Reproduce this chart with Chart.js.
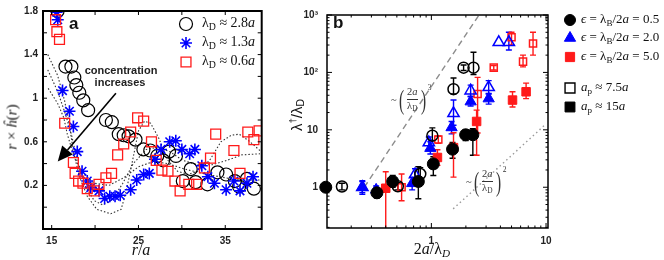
<!DOCTYPE html>
<html>
<head>
<meta charset="utf-8">
<script src="https://cdn.jsdelivr.net/npm/chart.js@4/dist/chart.umd.min.js"></script>
<style>
body { margin: 0; background: #fff; width: 664px; height: 260px; overflow: hidden; position: relative; font-family: "Liberation Sans", Arial, sans-serif; }
canvas { position: absolute; top: 0; }
#ca { left: 0; }
#cb { left: 280px; }
.t { position: absolute; white-space: nowrap; color: #111; line-height: 1; }
.c { transform: translate(-50%, -50%); }
.m { transform: translateY(-50%); }
.serif { font-family: "Liberation Serif", "DejaVu Serif", serif; }
.lg { font-size: 14px; }
.lgb { font-size: 13px; }
sub { font-size: 70%; vertical-align: -0.25em; font-style: normal; }
sup { font-size: 65%; vertical-align: 0.55em; }
.pw { font-family: "Liberation Serif", serif; font-size: 10.5px; display: flex; align-items: center; color: #333; }
.fr { display: inline-flex; flex-direction: column; align-items: center; line-height: 1.2; margin: 0 1px; }
.fr span:first-child { border-bottom: 0.7px solid #333; }
.par { font-size: 28px; line-height: 1; transform: scaleX(0.55); display: inline-block; font-weight: 300; }
.pw sup { font-size: 7.5px; align-self: flex-start; margin-top: -2px; }
</style>
</head>
<body>
<canvas id="ca" width="270" height="260"></canvas>
<canvas id="cb" width="384" height="260"></canvas>

<!-- panel a texts -->
<div class="t" style="left:69px;top:15px;font-size:17px;font-weight:bold">a</div>
<div class="t c" style="left:121px;top:70px;font-size:11px;font-weight:bold;color:#222">concentration</div>
<div class="t c" style="left:120px;top:82px;font-size:11px;font-weight:bold;color:#222">increases</div>
<div class="t m serif lg" style="left:202px;top:24px">λ<sub>D</sub> ≈ 2.8<i>a</i></div>
<div class="t m serif lg" style="left:202px;top:43px">λ<sub>D</sub> ≈ 1.3<i>a</i></div>
<div class="t m serif lg" style="left:202px;top:62px">λ<sub>D</sub> ≈ 0.6<i>a</i></div>
<div class="t c serif" style="left:141px;top:250px;font-size:16px"><i>r</i>/<i>a</i></div>
<div class="t serif" style="left:12px;top:127px;font-size:15px;transform:translate(-50%,-50%) rotate(-90deg)"><i>r</i> × <i>h&#770;</i>(<i>r</i>)</div>

<!-- panel b texts -->
<div class="t" style="left:333px;top:14px;font-size:17px;font-weight:bold">b</div>
<div class="t" style="left:297px;top:115px;font-size:15px;transform:translate(-50%,-50%) rotate(-90deg)">λ<sup>†</sup>/λ<sub>D</sub></div>
<div class="t c serif" style="left:432px;top:250px;font-size:16px">2<i>a</i>/λ<sub><i>D</i></sub></div>
<div class="t pw" style="left:391px;top:86px">~ <span class="par">(</span><span class="fr"><span>2<i>a</i></span><span>λ<sub>D</sub></span></span><span class="par">)</span><sup>3</sup></div>
<div class="t pw" style="left:466px;top:168px">~ <span class="par">(</span><span class="fr"><span>2<i>a</i></span><span>λ<sub>D</sub></span></span><span class="par">)</span><sup>2</sup></div>
<div class="t m serif lgb" style="left:581px;top:20px"><i>ϵ</i> = λ<sub>B</sub>/2<i>a</i> = 0.5</div>
<div class="t m serif lgb" style="left:581px;top:38px"><i>ϵ</i> = λ<sub>B</sub>/2<i>a</i> = 2.0</div>
<div class="t m serif lgb" style="left:581px;top:57px"><i>ϵ</i> = λ<sub>B</sub>/2<i>a</i> = 5.0</div>
<div class="t m serif lgb" style="left:581px;top:88px"><i>a<sub>p</sub></i> ≈ 7.5<i>a</i></div>
<div class="t m serif lgb" style="left:581px;top:107px"><i>a<sub>p</sub></i> ≈ 15<i>a</i></div>

<script>
// ---------- panel a : r x h(r) vs r/a ----------
const ringX = [15.68, 16.59, 17.27, 17.61, 17.84, 18.18, 18.64, 19.2, 21.25, 21.93, 22.73, 23.3, 23.86, 24.66, 25.57, 26.36, 27.16, 27.84, 28.52, 29.32, 30.11, 31.02, 31.59, 32.95, 34.1, 35.1, 36.1, 36.6, 37.5, 38.3];
const ringY = [1.80, 1.29, 1.29, 1.19, 1.12, 1.05, 0.98, 0.89, 0.80, 0.78, 0.67, 0.66, 0.65, 0.62, 0.53, 0.52, 0.47, 0.43, 0.51, 0.47, 0.24, 0.35, 0.23, 0.21, 0.32, 0.30, 0.24, 0.19, 0.26, 0.17];

const starX = [15.57, 15.7, 16.25, 17.05, 17.5, 17.95, 18.5, 19.1, 19.5, 20.45, 21.1, 21.7, 22.3, 22.9, 24.1, 24.8, 25.6, 26.25, 26.9, 27.6, 28.6, 29.3, 30.0, 30.9, 31.5, 32.3, 33.0, 33.75, 35.1, 36.0, 36.7, 37.5, 38.2];
const starY = [1.79, 1.72, 1.07, 0.88, 0.74, 0.51, 0.33, 0.24, 0.18, 0.15, 0.08, 0.10, 0.10, 0.11, 0.16, 0.25, 0.30, 0.31, 0.44, 0.53, 0.60, 0.61, 0.53, 0.49, 0.53, 0.38, 0.28, 0.22, 0.16, 0.24, 0.15, 0.22, 0.28];

const boxX = [15.45, 15.6, 15.9, 16.5, 17.5, 17.7, 18.1, 18.6, 19.1, 19.9, 20.45, 21.25, 21.9, 22.6, 23.3, 24.1, 24.9, 25.6, 26.5, 27.05, 27.7, 28.4, 29.2, 29.8, 30.8, 31.7, 32.6, 33.3, 33.9, 36.0, 36.7, 37.6, 38.3, 38.9];
const boxY = [1.72, 1.61, 1.54, 0.77, 0.41, 0.31, 0.24, 0.22, 0.17, 0.15, 0.21, 0.27, 0.31, 0.48, 0.58, 0.69, 0.82, 0.79, 0.60, 0.43, 0.34, 0.33, 0.24, 0.15, 0.21, 0.21, 0.36, 0.45, 0.67, 0.52, 0.31, 0.69, 0.62, 0.70];

// dotted theory curves
const curve1X = [14.55, 15.68, 16.48, 17.05, 17.5, 18.2, 19.1, 20.2, 21.8, 23.0, 23.6, 24.3, 25.0, 25.7, 26.4, 27.3, 28.4, 29.5, 30.7, 31.8, 33.2, 34.5, 35.7, 36.6, 37.7, 39.0];
const curve1Y = [1.40, 1.21, 0.98, 0.75, 0.51, 0.28, 0.10, -0.02, -0.06, -0.02, 0.15, 0.42, 0.70, 0.79, 0.77, 0.64, 0.43, 0.33, 0.30, 0.33, 0.43, 0.60, 0.66, 0.67, 0.61, 0.52];
const curve2X = [14.55, 15.7, 16.6, 17.3, 17.95, 18.9, 19.9, 20.9, 22.0, 23.2, 24.4, 25.9, 27.3, 28.6, 30.1, 31.8, 33.5, 35.2, 36.9, 39.0];
const curve2Y = [1.26, 1.06, 0.85, 0.66, 0.42, 0.19, 0.06, 0.02, 0.07, 0.22, 0.40, 0.53, 0.55, 0.51, 0.43, 0.39, 0.39, 0.43, 0.48, 0.49];
const curve3X = [14.6, 15.7, 16.4, 16.8, 17.6, 18.6, 19.9, 21.6, 23.3, 25.0, 26.7, 28.4, 30.3, 32.4, 34.3, 36.4, 39.0];
const curve3Y = [1.09, 0.95, 0.82, 0.67, 0.46, 0.31, 0.22, 0.20, 0.27, 0.37, 0.42, 0.40, 0.35, 0.31, 0.28, 0.25, 0.25];

const arrowFrom = [22.4, 1.045];
const arrowTo = [15.7, 0.42];

const xTicksA = [15, 20, 25, 30, 35];
const xLabelsA = [15, 25, 35];
const yTicksA = [-0.2, 0, 0.2, 0.4, 0.6, 0.8, 1.0, 1.2, 1.4, 1.6, 1.8];
const yLabelsA = [0.2, 0.6, 1, 1.4, 1.8];

// ---------- panel b : lambda_dagger / lambda_D vs 2a/lambda_D ----------
const blackFillX = [0.12, 0.335, 0.46, 0.77, 1.04, 1.53, 1.99, 2.3];
const blackFillY = [1.0, 0.80, 1.26, 1.26, 2.55, 4.6, 8.2, 8.2];
const blackFillLo = [null, 0.65, 1.0, 0.63, 1.6, 3.2, 6.5, 3.6];
const blackFillHi = [null, 0.95, 1.6, 2.27, 3.4, 6.0, 10, 10.5];

const blackOpenX = [0.166, 0.51, 0.80, 1.02, 1.56, 1.91, 2.33];
const blackOpenY = [1.03, 1.04, 1.7, 7.9, 51, 121, 121];
const blackOpenLo = [0.9, 0.9, 1.3, 6.5, 42, 108, 92];
const blackOpenHi = [1.17, 1.2, 2.2, 10.8, 80, 135, 225];

const blueFillX = [0.25, 0.33, 0.68, 0.98, 1.5, 2.2, 3.16];
const blueFillY = [1.0, 0.9, 1.17, 4.8, 11, 31, 35];
const blueFillLo = [0.75, 0.75, 0.9, 3.8, 8.5, 26, 28];
const blueFillHi = [1.3, 1.05, 1.5, 6.2, 14, 38, 43];

const blueOpenX = [0.25, 0.72, 0.95, 1.56, 2.2, 3.16, 3.87, 4.74];
const blueOpenY = [1.0, 1.66, 6.0, 19.4, 48, 55, 335, 335];
const blueOpenLo = [0.8, 1.3, 4.5, 12, 38, 42, null, 245];
const blueOpenHi = [1.25, 2.1, 7.5, 33, 60, 72, null, 500];

const redFillX = [0.40, 1.13, 1.56, 2.48, 5.1, 6.7];
const redFillY = [0.96, 3.3, 4.9, 14, 33, 46];
const redFillLo = [0.1, 2.4, 1.5, 3.6, 25, 35];
const redFillHi = [1.86, 4.5, 8.9, 22, 46, 65];

const redOpenX = [0.55, 1.15, 2.53, 3.5, 5.0, 6.3, 7.7];
const redOpenY = [1.0, 6.8, 42, 121, 410, 154, 320];
const redOpenLo = [0.58, 5.8, 8.8, 110, 300, 125, 200];
const redOpenHi = [1.7, 7.8, 82, 132, 500, 200, 500];

const cubeX = [0.26, 2.6];
const cubeY = [1.0, 1000];
const squareX = [1.55, 9.7];
const squareY = [0.42, 12];

const xTicksB = [1, 10];
const xLabelsB = ['1', '10'];
const yTicksB = [1, 10, 100, 1000];
const yLabelsB = ['1', '10', '10²', '10³'];

const BLUE = '#0000ff';
const RED = '#ff1a1a';
const NONE = 'rgba(0,0,0,0)';

function pairs(xs, ys) {
    return xs.map((x, i) => ({ x: x, y: ys[i] }));
}

function logMinor(from, to) {
    const out = [];
    for (let d = from; d < to; d *= 10) {
        for (let k = 2; k <= 9; k++) out.push(d * k);
    }
    return out;
}

// box frame with inward ticks on all four sides
const framePlugin = {
    id: 'frame',
    afterDatasetsDraw(chart, args, o) {
        const { ctx, chartArea: a } = chart;
        const sx = chart.scales.x, sy = chart.scales.y;
        ctx.save();
        ctx.strokeStyle = '#000';
        ctx.lineWidth = 1;
        ctx.beginPath();
        const xMarks = (vals, len) => vals.forEach(v => {
            const p = sx.getPixelForValue(v);
            if (p < a.left || p > a.right) return;
            ctx.moveTo(p, a.bottom); ctx.lineTo(p, a.bottom - len);
            ctx.moveTo(p, a.top); ctx.lineTo(p, a.top + len);
        });
        const yMarks = (vals, len) => vals.forEach(v => {
            const p = sy.getPixelForValue(v);
            if (p < a.top || p > a.bottom) return;
            ctx.moveTo(a.left, p); ctx.lineTo(a.left + len, p);
            ctx.moveTo(a.right, p); ctx.lineTo(a.right - len, p);
        });
        xMarks(o.xMajor, o.len);
        yMarks(o.yMajor, o.len);
        xMarks(o.xMinor || [], o.len / 2);
        yMarks(o.yMinor || [], o.len / 2);
        ctx.stroke();
        ctx.lineWidth = o.lw;
        ctx.strokeRect(a.left, a.top, a.right - a.left, a.bottom - a.top);
        ctx.restore();
    }
};

// legend markers drawn at fixed canvas spots
const marksPlugin = {
    id: 'marks',
    afterDraw(chart, args, o) {
        const ctx = chart.ctx;
        o.items.forEach(m => {
            ctx.save();
            ctx.fillStyle = m.fill;
            ctx.strokeStyle = m.stroke;
            ctx.lineWidth = m.lw;
            Chart.helpers.drawPoint(ctx, { pointStyle: m.style, radius: m.r, rotation: 0, borderWidth: m.lw }, m.x, m.y);
            ctx.restore();
        });
    }
};

const arrowPlugin = {
    id: 'arrow',
    afterDatasetsDraw(chart) {
        const { ctx } = chart;
        const sx = chart.scales.x, sy = chart.scales.y;
        const x0 = sx.getPixelForValue(arrowFrom[0]), y0 = sy.getPixelForValue(arrowFrom[1]);
        const x1 = sx.getPixelForValue(arrowTo[0]), y1 = sy.getPixelForValue(arrowTo[1]);
        const ang = Math.atan2(y1 - y0, x1 - x0);
        const hl = 15, hw = 7;
        const bx = x1 - hl * Math.cos(ang), by = y1 - hl * Math.sin(ang);
        ctx.save();
        ctx.strokeStyle = '#000';
        ctx.fillStyle = '#000';
        ctx.lineWidth = 1.6;
        ctx.beginPath();
        ctx.moveTo(x0, y0);
        ctx.lineTo(bx, by);
        ctx.stroke();
        ctx.beginPath();
        ctx.moveTo(x1, y1);
        ctx.lineTo(bx + hw * Math.sin(ang), by - hw * Math.cos(ang));
        ctx.lineTo(bx - hw * Math.sin(ang), by + hw * Math.cos(ang));
        ctx.closePath();
        ctx.fill();
        ctx.restore();
    }
};

// vertical error bars with caps
const errorPlugin = {
    id: 'errbars',
    beforeDatasetsDraw(chart) {
        const { ctx, chartArea: a } = chart;
        const sx = chart.scales.x, sy = chart.scales.y;
        chart.data.datasets.forEach(ds => {
            if (!ds.lo) return;
            ctx.save();
            ctx.strokeStyle = ds.borderColor;
            ctx.lineWidth = 1.4;
            ctx.beginPath();
            ds.data.forEach((pt, i) => {
                if (ds.lo[i] == null) return;
                const px = sx.getPixelForValue(pt.x);
                let pLo = sy.getPixelForValue(ds.lo[i]);
                const pHi = sy.getPixelForValue(ds.hi[i]);
                const clipped = pLo > a.bottom;
                if (clipped) pLo = a.bottom;
                ctx.moveTo(px, pLo); ctx.lineTo(px, pHi);
                ctx.moveTo(px - 3, pHi); ctx.lineTo(px + 3, pHi);
                if (!clipped) { ctx.moveTo(px - 3, pLo); ctx.lineTo(px + 3, pLo); }
            });
            ctx.stroke();
            ctx.restore();
        });
    }
};

function dotted(xs, ys) {
    return {
        data: pairs(xs, ys), showLine: true, pointRadius: 0, borderColor: '#333',
        borderWidth: 1.1, borderDash: [1.5, 2], fill: false, order: 10
    };
}

const tickFont = { family: '"Liberation Sans", Arial, sans-serif', size: 10, weight: 'bold' };

new Chart(document.getElementById('ca'), {
    type: 'scatter',
    data: {
        datasets: [
            dotted(curve1X, curve1Y),
            dotted(curve2X, curve2Y),
            dotted(curve3X, curve3Y),
            { data: pairs(ringX, ringY), pointStyle: 'circle', pointRadius: 6.5, borderColor: '#000', backgroundColor: NONE, borderWidth: 1.2, order: 3 },
            { data: pairs(starX, starY), pointStyle: 'star', pointRadius: 6, borderColor: BLUE, backgroundColor: BLUE, borderWidth: 1.6, order: 2 },
            { data: pairs(boxX, boxY), pointStyle: 'rect', pointRadius: 7, borderColor: RED, backgroundColor: NONE, borderWidth: 1.3, order: 1 }
        ]
    },
    options: {
        animation: false,
        responsive: false,
        events: [],
        layout: { padding: { left: 0, top: 6, right: 5, bottom: 0 } },
        plugins: {
            legend: { display: false },
            tooltip: { enabled: false },
            frame: { xMajor: xTicksA, yMajor: yTicksA, len: 4, lw: 2 },
            marks: {
                items: [
                    { x: 186, y: 24, style: 'circle', r: 6.5, fill: NONE, stroke: '#000', lw: 1.2 },
                    { x: 186, y: 43, style: 'star', r: 6, fill: BLUE, stroke: BLUE, lw: 1.6 },
                    { x: 186, y: 62, style: 'rect', r: 7, fill: NONE, stroke: RED, lw: 1.3 }
                ]
            }
        },
        scales: {
            x: {
                type: 'linear', min: 14, max: 39.2, bounds: 'data',
                afterBuildTicks: s => { s.ticks = xTicksA.map(v => ({ value: v })); },
                afterFit: s => { s.height = 31; },
                grid: { display: false, drawTicks: false },
                border: { display: false },
                ticks: {
                    autoSkip: false, maxRotation: 0, padding: 6, color: '#222', font: tickFont,
                    callback: v => xLabelsA.includes(v) ? String(v) : ''
                }
            },
            y: {
                type: 'linear', min: -0.2, max: 1.8, bounds: 'data',
                afterBuildTicks: s => { s.ticks = yTicksA.map(v => ({ value: v })); },
                afterFit: s => { s.width = 43; },
                grid: { display: false, drawTicks: false },
                border: { display: false },
                ticks: {
                    autoSkip: false, padding: 5, color: '#222', font: tickFont,
                    callback: v => {
                        const r = Math.round(v * 10) / 10;
                        return yLabelsA.includes(r) ? String(r) : '';
                    }
                }
            }
        }
    },
    plugins: [framePlugin, arrowPlugin, marksPlugin]
});

function series(xs, ys, lo, hi, style, r, color, filled) {
    return {
        data: pairs(xs, ys), lo: lo, hi: hi, pointStyle: style, pointRadius: r,
        borderColor: color, backgroundColor: filled ? color : NONE,
        borderWidth: filled ? 1 : 1.5, clip: false, order: filled ? 1 : 2
    };
}

new Chart(document.getElementById('cb'), {
    type: 'scatter',
    data: {
        datasets: [
            { data: pairs(cubeX, cubeY), showLine: true, pointRadius: 0, borderColor: '#8c8c8c', borderWidth: 1.4, borderDash: [6, 4], order: 10 },
            { data: pairs(squareX, squareY), showLine: true, pointRadius: 0, borderColor: '#9a9a9a', borderWidth: 1.4, borderDash: [1.5, 3], order: 10 },
            series(blackOpenX, blackOpenY, blackOpenLo, blackOpenHi, 'circle', 5.5, '#000', false),
            series(blueOpenX, blueOpenY, blueOpenLo, blueOpenHi, 'triangle', 6.5, BLUE, false),
            series(redOpenX, redOpenY, redOpenLo, redOpenHi, 'rect', 5, RED, false),
            series(blackFillX, blackFillY, blackFillLo, blackFillHi, 'circle', 6, '#000', true),
            series(blueFillX, blueFillY, blueFillLo, blueFillHi, 'triangle', 6.5, BLUE, true),
            series(redFillX, redFillY, redFillLo, redFillHi, 'rect', 6, RED, true)
        ]
    },
    options: {
        animation: false,
        responsive: false,
        events: [],
        layout: { padding: { left: 0, top: 8, right: 116, bottom: 0 } },
        plugins: {
            legend: { display: false },
            tooltip: { enabled: false },
            frame: { xMajor: xTicksB, yMajor: yTicksB, xMinor: logMinor(0.1, 10), yMinor: logMinor(0.1, 1000), len: 5, lw: 1.5 },
            marks: {
                items: [
                    { x: 290, y: 20, style: 'circle', r: 5.5, fill: '#000', stroke: '#000', lw: 1 },
                    { x: 290, y: 38, style: 'triangle', r: 6.5, fill: BLUE, stroke: BLUE, lw: 1 },
                    { x: 290, y: 57, style: 'rect', r: 6.5, fill: RED, stroke: RED, lw: 1 },
                    { x: 290, y: 88, style: 'rect', r: 7, fill: NONE, stroke: '#000', lw: 1.4 },
                    { x: 290, y: 107, style: 'rect', r: 7, fill: '#000', stroke: '#000', lw: 1 }
                ]
            }
        },
        scales: {
            x: {
                type: 'logarithmic', min: 0.123, max: 10.4, bounds: 'data',
                afterBuildTicks: s => { s.ticks = xTicksB.map(v => ({ value: v })); },
                afterFit: s => { s.height = 32; },
                grid: { display: false, drawTicks: false },
                border: { display: false },
                ticks: {
                    autoSkip: false, maxRotation: 0, padding: 7, color: '#222', font: tickFont,
                    callback: v => xLabelsB[xTicksB.indexOf(v)]
                }
            },
            y: {
                type: 'logarithmic', min: 0.195, max: 1000, bounds: 'data',
                afterBuildTicks: s => { s.ticks = yTicksB.map(v => ({ value: v })); },
                afterFit: s => { s.width = 47; },
                grid: { display: false, drawTicks: false },
                border: { display: false },
                ticks: {
                    autoSkip: false, padding: 9, color: '#222', font: tickFont,
                    callback: v => yLabelsB[yTicksB.indexOf(v)]
                }
            }
        }
    },
    plugins: [errorPlugin, framePlugin, marksPlugin]
});
</script>
</body>
</html>
